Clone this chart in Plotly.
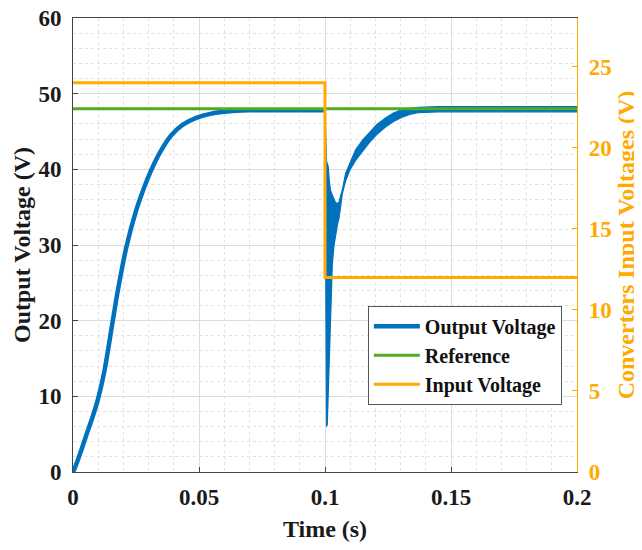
import plotly.graph_objects as go

# ---- data ----
startup_time = [0.0, 0.0007, 0.0030, 0.0053, 0.0077, 0.0099, 0.0125, 0.0156, 0.0178, 0.0211,
                0.0251, 0.0288, 0.0304, 0.0343, 0.0390, 0.0436, 0.0489, 0.0540, 0.0600,
                0.0700, 0.0800, 0.0900, 0.1000]
startup_volt = [0.0, 0.5, 2.6, 4.9, 7.2, 9.6, 13.4, 19.6, 24.0, 29.6,
                34.6, 38.1, 39.4, 42.1, 44.5, 45.9, 46.8, 47.3, 47.6,
                47.8, 47.8, 47.8, 47.8]

trans_time = [0.1, 0.1003, 0.1006, 0.1009, 0.1013, 0.1017, 0.1022, 0.1029, 0.1036, 0.1042,
              0.1050, 0.1056, 0.1062, 0.1069, 0.1082, 0.1100, 0.1122, 0.1150, 0.1175,
              0.1205, 0.1240, 0.1270, 0.1306, 0.1340, 0.1370, 0.1450, 0.2]
trans_upper = [48.2, 41.0, 41.0, 40.8, 40.3, 38.5, 37.2, 36.6, 36.0, 35.6,
               35.5, 35.7, 36.5, 37.3, 39.5, 41.0, 42.6, 43.9, 44.8,
               45.9, 46.8, 47.4, 47.9, 48.1, 48.2, 48.3, 48.3]
trans_lower = [47.5, 30.0, 6.0, 6.3, 10.6, 15.5, 21.0, 27.5, 30.0, 31.5,
               32.8, 33.6, 35.0, 36.8, 38.5, 40.0, 41.2, 42.5, 43.5,
               44.6, 45.6, 46.3, 46.9, 47.3, 47.5, 47.6, 47.6]

ref_time = [0.0, 0.2]
ref_volt = [48, 48]

input_time = [0.0, 0.1, 0.1, 0.2]
input_volt = [24, 24, 12, 12]

x_ticks = [0, 0.05, 0.1, 0.15, 0.2]
x_labels = ["0", "0.05", "0.1", "0.15", "0.2"]
y_ticks = [0, 10, 20, 30, 40, 50, 60]
y2_ticks = [0, 5, 10, 15, 20, 25]

BLUE = "#0072BD"
GREEN = "#4DAC26"
ORANGE = "#FFAA00"
FONT = "Liberation Serif"
TXT = "#1a1a1a"

fig = go.Figure()

fig.add_trace(go.Scatter(x=startup_time, y=startup_volt, mode="lines",
                         line=dict(color=BLUE, width=4.5, shape="spline", smoothing=0.8),
                         name="Output Voltage", legendgroup="a"))
fig.add_trace(go.Scatter(x=trans_time, y=trans_upper, mode="lines",
                         line=dict(color=BLUE, width=1.2),
                         showlegend=False, legendgroup="a", hoverinfo="skip"))
fig.add_trace(go.Scatter(x=trans_time, y=trans_lower, mode="lines",
                         line=dict(color=BLUE, width=1.2), fill="tonexty", fillcolor=BLUE,
                         showlegend=False, legendgroup="a", hoverinfo="skip"))
fig.add_trace(go.Scatter(x=ref_time, y=ref_volt, mode="lines",
                         line=dict(color=GREEN, width=3),
                         name="Reference", legendgroup="b"))
fig.add_trace(go.Scatter(x=input_time, y=input_volt, mode="lines",
                         line=dict(color=ORANGE, width=3),
                         name="Input Voltage", legendgroup="c", yaxis="y2"))

fig.update_layout(
    width=634, height=542,
    margin=dict(l=65, r=65, t=10, b=78),
    plot_bgcolor="white", paper_bgcolor="white",
    font=dict(family=FONT, color=TXT),
    xaxis=dict(
        range=[0, 0.2], tickvals=x_ticks, ticktext=x_labels, automargin=False,
        showline=True, linecolor="#444444", linewidth=1, mirror=True,
        ticks="inside", ticklen=5, tickcolor="#444444", ticklabelstandoff=4,
        ticklabeloverflow="allow",
        showgrid=True, gridcolor="#DCDCDC", gridwidth=1, zeroline=False,
        minor=dict(dtick=0.01, tick0=0, showgrid=True, gridcolor="#E2E2E2", griddash="dot"),
        tickfont=dict(family=FONT, size=23, weight="bold", color=TXT),
        title=dict(text="Time (s)", font=dict(family=FONT, size=24, weight="bold", color=TXT), standoff=11),
    ),
    yaxis=dict(
        range=[0, 60], tickvals=y_ticks, automargin=False,
        showline=True, linecolor="#444444", linewidth=1,
        ticks="inside", ticklen=5, tickcolor="#444444", ticklabelstandoff=6,
        ticklabeloverflow="allow",
        showgrid=True, gridcolor="#DCDCDC", gridwidth=1, zeroline=False,
        minor=dict(dtick=2, tick0=0, showgrid=True, gridcolor="#E2E2E2", griddash="dot"),
        tickfont=dict(family=FONT, size=23, weight="bold", color=TXT),
        title=dict(text="Output Voltage (V)", font=dict(family=FONT, size=24, weight="bold", color=TXT), standoff=1),
    ),
    yaxis2=dict(
        range=[0, 28], tickvals=y2_ticks, overlaying="y", side="right", automargin=False,
        showline=True, linecolor=ORANGE, linewidth=1.2,
        ticks="inside", ticklen=5, tickcolor=ORANGE, ticklabelstandoff=6,
        ticklabeloverflow="allow",
        showgrid=False, zeroline=False,
        tickfont=dict(family=FONT, size=23, weight="bold", color=ORANGE),
        title=dict(text="Converters Input Voltages (V)", font=dict(family=FONT, size=24, weight="bold", color=ORANGE), standoff=6),
    ),
    legend=dict(
        x=0.585, y=0.366, xanchor="left", yanchor="top",
        bgcolor="white", bordercolor="#555555", borderwidth=1,
        font=dict(family=FONT, size=20, weight="bold", color="#111111"),
        traceorder="grouped", tracegroupgap=0, itemwidth=46,
    ),
    showlegend=True,
)

fig.write_html("out.html")
